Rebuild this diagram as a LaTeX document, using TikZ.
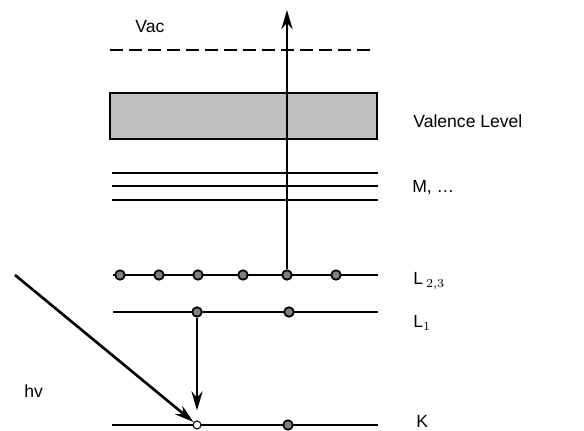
\documentclass[tikz,border=0pt]{standalone}
\usepackage{fontspec}
\setmainfont{Liberation Sans}
\usetikzlibrary{arrows.meta}

\begin{document}
\begin{tikzpicture}[x=0.02cm,y=-0.02cm,
  level/.style={line width=.9pt},
  electron/.style={draw,circle,fill=gray,inner sep=0pt,minimum size=0.19cm,line width=1pt},
  hole/.style={draw,circle,fill=white,inner sep=0pt,minimum size=0.16cm,line width=.6pt},
  transition/.style={line width=1.7pt,-{Stealth[length=0.38cm,width=0.22cm]}},
  label/.style={anchor=base west,font=\fontsize{10}{12}\selectfont,inner sep=0pt}
]
  \useasboundingbox (0,0) rectangle (584,431);

  % vacuum level and valence band
  \draw[line width=1.3pt,dash pattern=on 7.4pt off 3.4pt] (110,50) -- (375,50);
  \node[label] (vac) at (135,33) {Vac};
  \draw[line width=.7pt,fill={rgb,255:red,192;green,192;blue,192}] (110,93) rectangle (377,139);
  \node[label] (val) at (413,128) {Valence Level};

  % M shells
  \foreach \y in {173,186,200}
    \draw[level] (112,\y) -- (378,\y);
  \node[label] (mlev) at (412,193) {M, \dots};

  % core levels
  \draw[level] (113,275) -- (378,275);
  \draw[level] (113,312) -- (378,312);
  \draw[level] (112,425) -- (378,425);
  \node[label] (l23) at (413,285) {L\,$_{2,3}$};
  \node[label] (l1) at (413,328) {L$_1$};
  \node[label] (k) at (416,428) {K};

  \foreach \x [count=\i] in {120,159,198,243,287,336}
    \node[electron] (e\i) at (\x,275) {};
  \node[electron] (la) at (197,312) {};
  \node[electron] (lb) at (289,312) {};
  \node[hole] (hole) at (197,425) {};
  \node[electron] (kb) at (288,425) {};

  % photon, fluorescence and Auger electron
  \coordinate (src) at (15,275);
  \coordinate (top) at (287,10);
  \node[label] (hv) at (24,398) {hv};
  \draw[transition,line width=1.5pt] (src) -- (hole);
  \draw[transition,shorten >=0.2cm] (la) -- (hole);
  \draw[transition] (e5) -- (top);
\end{tikzpicture}
\end{document}
